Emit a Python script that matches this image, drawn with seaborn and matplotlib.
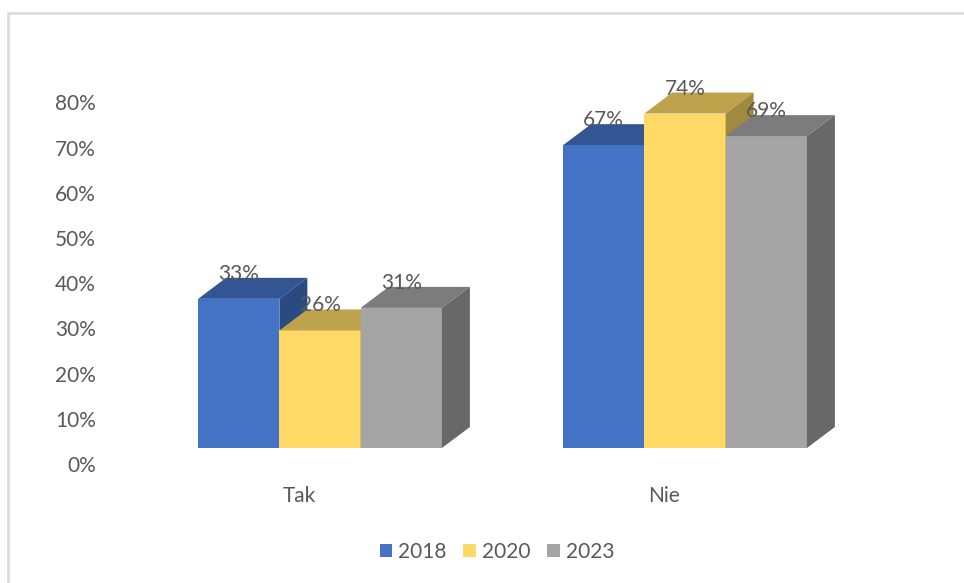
"""
Tak / Nie survey answers by year, 3D looking grouped bars
"""

import matplotlib
matplotlib.use("Agg")
import matplotlib.pyplot as plt
import matplotlib.transforms as mtransforms
from matplotlib.patches import Polygon, Rectangle
import pandas as pd
import seaborn as sns

# ===================== Data =====================
categories = ["Tak", "Nie"]
years = ["2018", "2020", "2023"]
values_2018 = [33, 67]
values_2020 = [26, 74]
values_2023 = [31, 69]
y_ticks = [0, 10, 20, 30, 40, 50, 60, 70, 80]

# ===================== Style =====================
front_colors = ["#4472C4", "#FFD966", "#A5A5A5"]
top_colors = ["#335593", "#BFA34C", "#7C7C7C"]
side_colors = ["#2A4A80", "#A08A40", "#686868"]
text_color = "#595959"

W, H = 964, 583
DPI = 100
FONT_SIZE = 15
# plot area in pixels of the image
LEFT, RIGHT = 137.5, 867.5
BASE, TOP = 448, 41.2
# depth of the fake 3D box in pixels
DEPTH_X, DEPTH_Y = 28, 21

sns.set_theme(style="white")
plt.rcParams["font.family"] = ["Lato", "DejaVu Sans"]

df = pd.DataFrame({
    "answer": categories * 3,
    "year": [y for y in years for _ in categories],
    "value": values_2018 + values_2020 + values_2023,
})

fig = plt.figure(figsize=(W / DPI, H / DPI), dpi=DPI, facecolor="white")
ax = fig.add_axes([LEFT / W, 1 - BASE / H, (RIGHT - LEFT) / W, (BASE - TOP) / H])
ax.patch.set_alpha(0)

sns.barplot(data=df, x="answer", y="value", hue="year", order=categories,
            hue_order=years, palette=front_colors, saturation=1,
            width=0.668, gap=0, linewidth=0, ax=ax)
ax.set_xlim(-0.5, 1.5)
ax.set_ylim(0, 90)

# depth expressed in data units
dx = DEPTH_X * 2 / (RIGHT - LEFT)
dy = DEPTH_Y * 90 / (BASE - TOP)

for i, container in enumerate(ax.containers):
    for bar in container:
        x0 = bar.get_x()
        x1 = x0 + bar.get_width()
        h = bar.get_height()
        bar.set_zorder(3 + i)
        ax.add_patch(Polygon([(x0, h), (x1, h), (x1 + dx, h + dy), (x0 + dx, h + dy)],
                             facecolor=top_colors[i], edgecolor="none",
                             zorder=3 + i, clip_on=False))
        ax.add_patch(Polygon([(x1, 0), (x1 + dx, dy), (x1 + dx, h + dy), (x1, h)],
                             facecolor=side_colors[i], edgecolor="none",
                             zorder=3 + i, clip_on=False))
    labels = ax.bar_label(container, fmt="%g%%", padding=10.8, fontsize=FONT_SIZE,
                          color=text_color)
    for label in labels:
        label.set_zorder(10)

# axis text sits lower than the front base, as in the 3D chart
ax.set_xlabel("")
ax.set_ylabel("")
ax.set_yticks(y_ticks)
ax.set_yticklabels([f"{t}%" for t in y_ticks])
ax.tick_params(axis="y", length=0, pad=30, labelsize=FONT_SIZE, labelcolor=text_color)
ax.tick_params(axis="x", length=0, pad=27.3, labelsize=FONT_SIZE, labelcolor=text_color)
y_shift = mtransforms.ScaledTranslation(0, -16 / DPI, fig.dpi_scale_trans)
x_shift = mtransforms.ScaledTranslation(-21 / DPI, 0, fig.dpi_scale_trans)
for label in ax.get_yticklabels():
    label.set_transform(label.get_transform() + y_shift)
for label in ax.get_xticklabels():
    label.set_transform(label.get_transform() + x_shift)
sns.despine(ax=ax, left=True, bottom=True)

sns.move_legend(ax, "center", bbox_to_anchor=(497 / W, 1 - 552 / H),
                bbox_transform=fig.transFigure, ncol=3, frameon=False, title=None,
                fontsize=FONT_SIZE, labelcolor=text_color, handlelength=0.6, handleheight=0.6,
                handletextpad=0.3, columnspacing=0.8)

# chart frame, cut off by the screenshot on the right and at the bottom
fig.add_artist(Rectangle((8 / W, -0.1), 1.2, 1 - 13 / H + 0.1, transform=fig.transFigure,
                         facecolor="none", edgecolor="#D9D9D9", linewidth=1.8))

fig.savefig("out.png", dpi=DPI)
